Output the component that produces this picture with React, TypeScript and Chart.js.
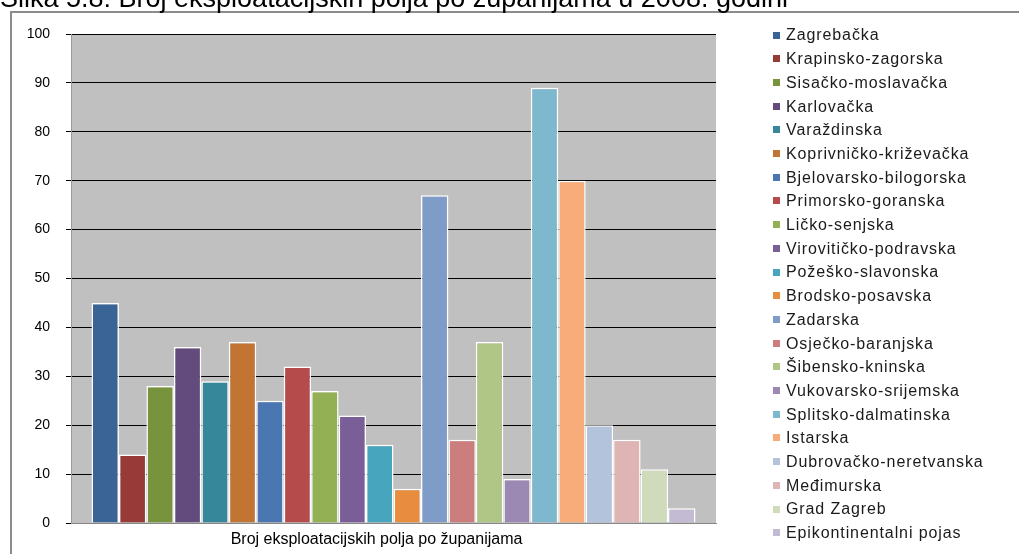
import React, { useEffect, useRef } from "react";
import { Chart, registerables } from "chart.js";

Chart.register(...registerables);

const titleText = "Slika 5.8: Broj eksploatacijskih polja po županijama u 2008. godini";
const categories = ["Broj eksploatacijskih polja po županijama"];

const counties = [
  "Zagrebačka",
  "Krapinsko-zagorska",
  "Sisačko-moslavačka",
  "Karlovačka",
  "Varaždinska",
  "Koprivničko-križevačka",
  "Bjelovarsko-bilogorska",
  "Primorsko-goranska",
  "Ličko-senjska",
  "Virovitičko-podravska",
  "Požeško-slavonska",
  "Brodsko-posavska",
  "Zadarska",
  "Osječko-baranjska",
  "Šibensko-kninska",
  "Vukovarsko-srijemska",
  "Splitsko-dalmatinska",
  "Istarska",
  "Dubrovačko-neretvanska",
  "Međimurska",
  "Grad Zagreb",
  "Epikontinentalni pojas",
];

const fieldCounts = [45, 14, 28, 36, 29, 37, 25, 32, 27, 22, 16, 7, 67, 17, 37, 9, 89, 70, 20, 17, 11, 3];

const colors = [
  "#3B6496",
  "#973A38",
  "#77933C",
  "#634C7D",
  "#36879A",
  "#C27533",
  "#4A77B1",
  "#B54B4A",
  "#93B055",
  "#7A5E98",
  "#47A5BD",
  "#E88D40",
  "#7F9CC8",
  "#CB7E7D",
  "#AFC686",
  "#9C89B3",
  "#7DB8CE",
  "#F7AC7A",
  "#B4C3DC",
  "#DFB4B4",
  "#CFDBBA",
  "#C3BBD3",
];

const yTicks = [0, 10, 20, 30, 40, 50, 60, 70, 80, 90, 100];

const FONT = '"Liberation Sans", Arial, sans-serif';

export default function App() {
  const ref = useRef<HTMLCanvasElement | null>(null);

  useEffect(() => {
    if (!ref.current) return;

    const decor = {
      id: "decor",
      beforeDraw(chart: any) {
        const { ctx, chartArea } = chart;
        const { left, top, right, bottom } = chartArea;
        ctx.save();
        ctx.fillStyle = "#ffffff";
        ctx.fillRect(0, 0, chart.width, chart.height);
        ctx.fillStyle = "#c0c0c0";
        ctx.fillRect(left, top, right - left, bottom - top);
        // outer frame
        ctx.strokeStyle = "#8c8c8c";
        ctx.lineWidth = 2;
        ctx.beginPath();
        ctx.moveTo(11, chart.height);
        ctx.lineTo(11, 12);
        ctx.lineTo(chart.width, 12);
        ctx.stroke();
        // title (cut off at top)
        ctx.fillStyle = "#000000";
        ctx.font = `27px ${FONT}`;
        ctx.textAlign = "left";
        ctx.textBaseline = "alphabetic";
        ctx.fillText(titleText, 0, 7);
        ctx.restore();
      },
      afterDraw(chart: any) {
        const { ctx } = chart;
        ctx.save();
        ctx.font = `16px ${FONT}`;
        (ctx as any).letterSpacing = "0.9px";
        ctx.textAlign = "left";
        ctx.textBaseline = "middle";
        chart.data.datasets.forEach((ds: any, i: number) => {
          const y = 35 + i * 23.7;
          ctx.fillStyle = ds.backgroundColor;
          ctx.fillRect(773, Math.round(y - 3.5), 7, 7);
          ctx.fillStyle = "#1a1a1a";
          ctx.fillText(ds.label, 786, y + 1);
        });
        ctx.restore();
      },
    };

    const chart = new Chart(ref.current, {
      type: "bar",
      data: {
        labels: categories,
        datasets: counties.map((name, i) => ({
          label: name,
          data: [fieldCounts[i]],
          backgroundColor: colors[i],
          borderColor: "#ffffff",
          borderWidth: 1.5,
          borderSkipped: "bottom",
          barPercentage: 1,
          categoryPercentage: 0.9364,
        })),
      },
      options: {
        animation: false,
        responsive: true,
        maintainAspectRatio: false,
        layout: { padding: { top: 34, right: 303, left: 0, bottom: 0 } },
        plugins: {
          legend: { display: false },
          tooltip: { enabled: false },
          title: { display: false },
        },
        scales: {
          x: {
            grid: { display: false, drawTicks: false },
            border: { display: true, color: "#878787", width: 1 },
            ticks: {
              color: "#000000",
              font: { family: FONT, size: 16 },
              padding: 7,
              labelOffset: -17,
            },
            afterFit(scale: any) {
              scale.height = 31;
            },
          },
          y: {
            min: 0,
            max: 100,
            afterBuildTicks(scale: any) {
              scale.ticks = yTicks.map((v) => ({ value: v }));
            },
            grid: {
              color: "#000000",
              lineWidth: 1,
              drawTicks: true,
              tickLength: 5,
              tickColor: "#000000",
            },
            border: { display: true, color: "#9a9a9a", width: 1 },
            ticks: {
              color: "#000000",
              font: { family: FONT, size: 14 },
              padding: 16,
            },
            afterFit(scale: any) {
              scale.width = 71;
            },
          },
        },
      },
      plugins: [decor],
    });

    return () => chart.destroy();
  }, []);

  return (
    <div style={{ position: "fixed", left: 0, top: 0, width: 1019, height: 554 }}>
      <canvas ref={ref} />
    </div>
  );
}
